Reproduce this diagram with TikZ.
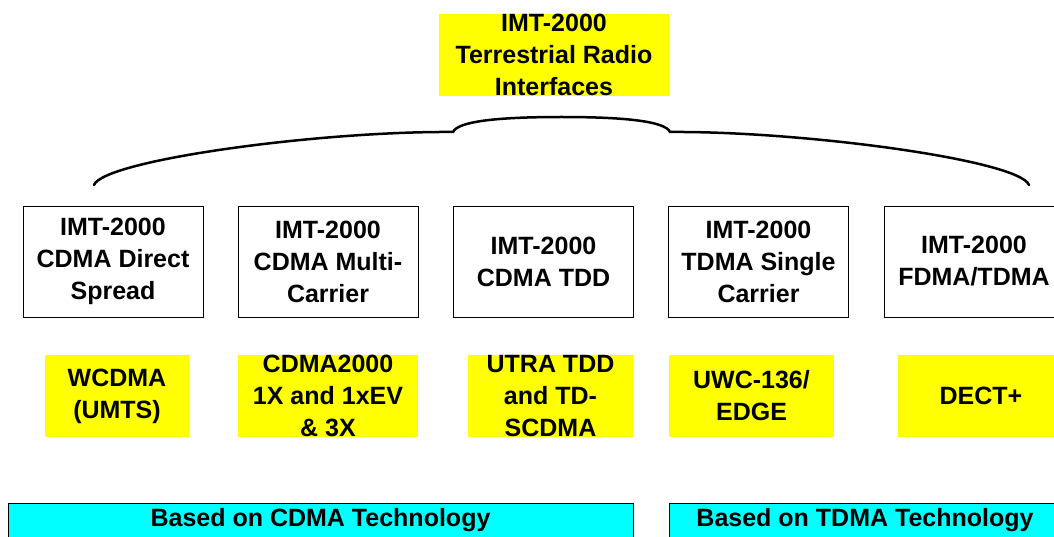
\documentclass[tikz,border=0pt]{standalone}
\usepackage{fontspec}
\setmainfont{Liberation Sans}
\definecolor{hiyellow}{HTML}{FFFF00}
\definecolor{hicyan}{HTML}{00FFFF}
\begin{document}
\begin{tikzpicture}[x=1pt,y=-1pt,
  txt/.style={font={\fontsize{25}{32}\selectfont\bfseries}, align=center, text=black, inner sep=0pt},
  techbox/.style={txt, draw=black, line width=0.8pt, fill=white, minimum width=180pt, minimum height=111pt},
  sysbox/.style={txt, fill=hiyellow, minimum height=82pt},
  basebar/.style={txt, draw=black, line width=0.8pt, fill=hicyan, minimum height=35pt},
  bracestyle/.style={line width=2.5pt, black, line cap=round}]
\useasboundingbox (0,0) rectangle (1054,537);
\clip (0,0) rectangle (1054,537);
% top
\node[sysbox, minimum width=230pt] (top) at (554,55) {IMT-2000\\Terrestrial Radio\\Interfaces};
% brace
\coordinate (bl) at (94,185);
\coordinate (bml) at (453,132);
\coordinate (bm) at (561.5,117);
\coordinate (bmr) at (670,132);
\coordinate (br) at (1029,185);
\draw[bracestyle] (bl) .. controls (104,160) and (320,131) .. (bml)
  .. controls (458,121) and (500,117) .. (bm)
  .. controls (623,117) and (665,121) .. (bmr)
  .. controls (803,131) and (1019,160) .. (br);
% technology boxes
\node[techbox] (t1) at (113,261.5) {IMT-2000\\CDMA Direct\\Spread};
\node[techbox] (t2) at (328,261.5) {IMT-2000\\CDMA Multi-\\Carrier};
\node[techbox] (t3) at (543.5,261.5) {IMT-2000\\CDMA TDD};
\node[techbox] (t4) at (758.5,261.5) {IMT-2000\\TDMA Single\\Carrier};
\node[techbox] (t5) at (974,261.5) {IMT-2000\\FDMA/TDMA};
% systems
\node[sysbox, minimum width=144pt] (s1) at (117,396) {WCDMA\\(UMTS)};
\node[sysbox, minimum width=180pt] (s2) at (328,396) {CDMA2000\\1X and 1xEV\\\& 3X};
\node[sysbox, minimum width=165pt] (s3) at (550.5,396) {UTRA TDD\\and TD-\\SCDMA};
\node[sysbox, minimum width=165pt] (s4) at (751.5,396) {UWC-136/\\EDGE};
\node[sysbox, minimum width=166pt] (s5) at (981,396) {DECT+};
% bars
\node[basebar, minimum width=625pt] (b1) at (320.5,520.5) {Based on CDMA Technology};
\node[basebar, minimum width=392pt] (b2) at (865,520.5) {Based on TDMA Technology};
\end{tikzpicture}
\end{document}
